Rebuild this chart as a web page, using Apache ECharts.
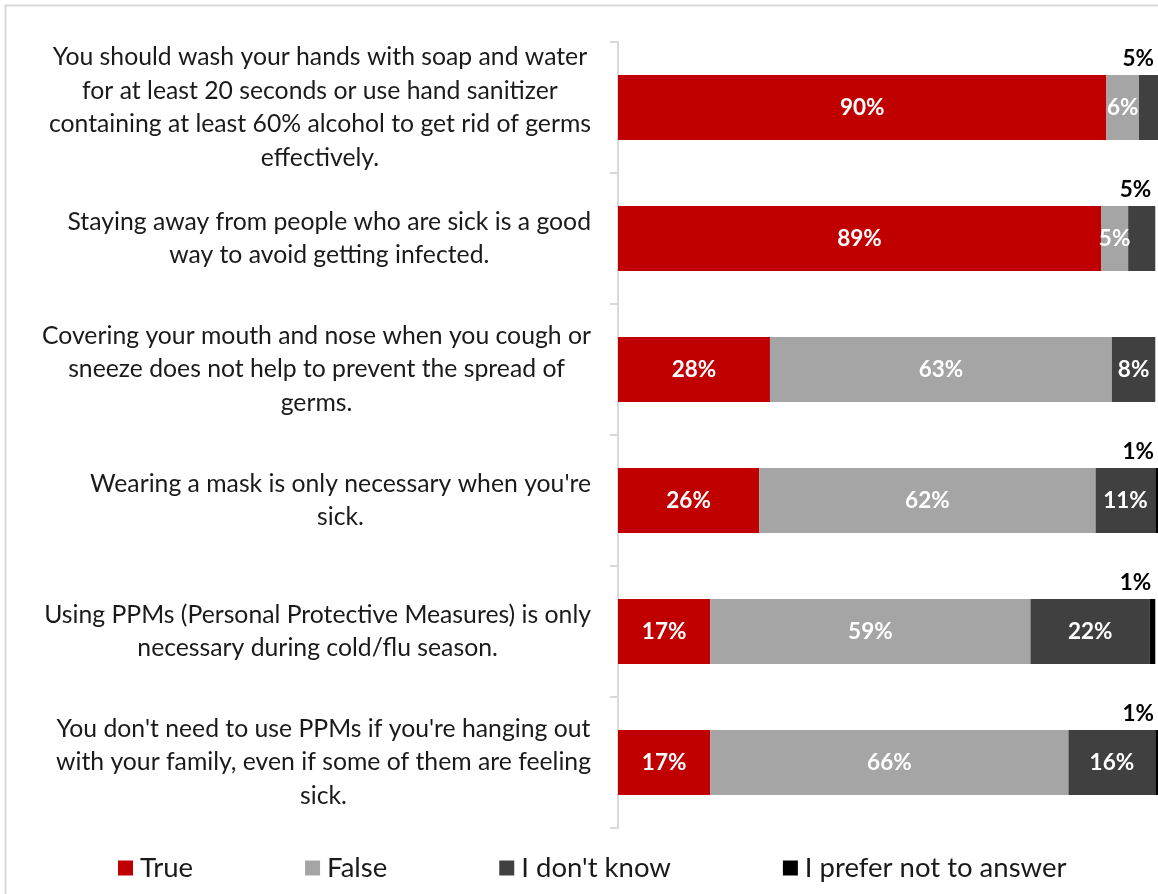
<!DOCTYPE html>
<html>
<head>
<meta charset="utf-8">
<script src="https://cdn.jsdelivr.net/npm/echarts@6/dist/echarts.min.js"></script>
<style>
  html, body { margin: 0; padding: 0; background: #fff; }
  #chart { width: 1158px; height: 894px; }
</style>
</head>
<body>
<div id="chart"></div>
<script>
// Statements shown on the category axis (line breaks as laid out)
const categories = [
  "You should wash your hands with soap and water\nfor at least 20 seconds or use hand sanitizer\ncontaining at least 60% alcohol to get rid of germs\neffectively.",
  "Staying away from people who are sick is a good\nway to avoid getting infected.",
  "Covering your mouth and nose when you cough or\nsneeze does not help to prevent the spread of\ngerms.",
  "Wearing a mask is only necessary when you're\nsick.",
  "Using PPMs (Personal Protective Measures) is only\nnecessary during cold/flu season.",
  "You don't need to use PPMs if you're hanging out\nwith your family, even if some of them are feeling\nsick."
];

// Share of responses (%) per answer
const trueValues      = [90, 89, 28, 26, 17, 17];
const falseValues     = [6, 5, 63, 62, 59, 66];
const dontKnowValues  = [5, 5, 8, 11, 22, 16];
const preferNotValues = [0, 0, 0, 1, 1, 1];

// Rows where a narrow segment's value is printed above the bar instead of inside
const dontKnowAbove  = [true, true, false, false, false, false];

const FONT = "Lato, 'Open Sans', sans-serif";

const aboveLabel = {
  show: true,
  position: ['100%', -5],
  offset: [-4, 0],
  align: 'right',
  verticalAlign: 'bottom',
  color: '#000',
  fontWeight: 'bold',
  fontSize: 22.5,
  fontFamily: FONT,
  formatter: p => p.value + '%'
};

function makeSeries(name, values, color, labelFor) {
  return {
    name: name,
    type: 'bar',
    stack: 'total',
    barWidth: 65,
    itemStyle: { color: color },
    label: {
      show: true,
      position: 'inside',
      color: '#fff',
      fontWeight: 'bold',
      fontSize: 22.5,
      fontFamily: FONT,
      formatter: p => p.value + '%'
    },
    data: values.map((v, i) => {
      const item = { value: v };
      const mode = labelFor(v, i);
      if (mode === 'above') item.label = aboveLabel;
      else if (mode === 'none') item.label = { show: false };
      return item;
    })
  };
}

const chart = echarts.init(document.getElementById('chart'), null, { renderer: 'canvas' });

chart.setOption({
  animation: false,
  backgroundColor: '#fff',
  graphic: [{
    type: 'rect',
    shape: { x: 5.5, y: 5.5, width: 1300, height: 1000 },
    style: { fill: null, stroke: '#d9d9d9', lineWidth: 2 },
    silent: true,
    z: -10
  }],
  grid: { left: 618, right: 0, top: 42, bottom: 66, containLabel: false },
  legend: {
    left: 118,
    top: 854,
    padding: 0,
    itemGap: 112,
    itemWidth: 15,
    itemHeight: 15,
    icon: 'rect',
    textStyle: { fontSize: 27.5, fontFamily: FONT, color: '#1a1a1a', padding: [0, 0, 0, 2] },
    data: ['True', 'False', "I don't know", 'I prefer not to answer']
  },
  xAxis: {
    type: 'value',
    min: 0,
    max: 99.5,
    show: false
  },
  yAxis: {
    type: 'category',
    inverse: true,
    data: categories,
    axisLine: { show: true, lineStyle: { color: '#d9d9d9', width: 2 } },
    axisTick: { show: true, length: 8, lineStyle: { color: '#d9d9d9', width: 2 } },
    splitLine: { show: false },
    axisLabel: {
      margin: 27,
      formatter: v => v.split('\n').map(l => '{c|' + l + '}').join('\n'),
      rich: {
        c: {
          fontSize: 24.75,
          fontFamily: FONT,
          color: '#1a1a1a',
          lineHeight: 33.5,
          align: 'center'
        }
      }
    }
  },
  series: [
    makeSeries('True', trueValues, '#c00000', () => 'inside'),
    makeSeries('False', falseValues, '#a5a5a5', () => 'inside'),
    makeSeries("I don't know", dontKnowValues, '#404040', (v, i) => dontKnowAbove[i] ? 'above' : 'inside'),
    makeSeries('I prefer not to answer', preferNotValues, '#000000', v => v > 0 ? 'above' : 'none')
  ]
});
</script>
</body>
</html>
